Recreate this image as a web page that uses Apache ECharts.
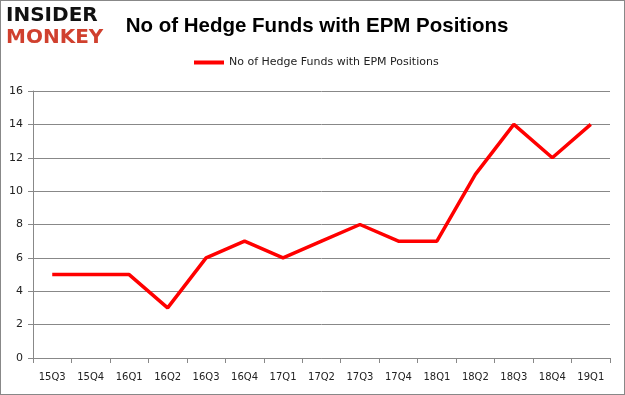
<!DOCTYPE html>
<html><head><meta charset="utf-8">
<script src="https://cdn.jsdelivr.net/npm/echarts@6/dist/echarts.min.js"></script>
<style>html,body{margin:0;padding:0;background:#fff}#c{width:625px;height:395px;box-sizing:border-box;border:1px solid #888}</style>
</head><body><div id="c"></div>
<script>
const categories = ['15Q3','15Q4','16Q1','16Q2','16Q3','16Q4','17Q1','17Q2','17Q3','17Q4','18Q1','18Q2','18Q3','18Q4','19Q1'];
const values = [5,5,5,3,6,7,6,7,8,7,7,11,14,12,14];
const seriesName = 'No of Hedge Funds with EPM Positions';
const chart = echarts.init(document.getElementById('c'), null, {renderer:'canvas'});
chart.setOption({
  animation:false,
  title:{text:'No of Hedge Funds with EPM Positions', left:311, top:10, textAlign:'center',
    textStyle:{fontFamily:'Liberation Sans, Arial', fontWeight:'bold', fontSize:20.5, color:'#000'}},
  graphic:[
    {type:'text', left:5, top:5, style:{text:'INSIDER', fontFamily:'DejaVu Sans', fontWeight:900, fontSize:20, fill:'#111'}},
    {type:'text', left:5, top:27, style:{text:'MONKEY', fontFamily:'DejaVu Sans', fontWeight:900, fontSize:20, fill:'#d0402e'}}
  ],
  legend:{top:51, left:188, itemWidth:30, itemHeight:4, itemGap:5, icon:'rect',
    textStyle:{fontFamily:'DejaVu Sans', fontSize:11, color:'#222'}, data:[seriesName]},
  grid:{left:32, right:14, top:90, bottom:36, containLabel:false},
  xAxis:{type:'category', data:categories, boundaryGap:true,
    axisLine:{lineStyle:{color:'#888', width:1}},
    axisTick:{show:true, alignWithLabel:false, length:5, interval:0, lineStyle:{color:'#888'}},
    axisLabel:{interval:0, color:'#222', fontFamily:'DejaVu Sans', fontSize:10, margin:14}},
  yAxis:{type:'value', min:0, max:16, interval:2,
    axisLine:{show:true, lineStyle:{color:'#888'}},
    axisTick:{show:true, length:5, lineStyle:{color:'#888'}},
    splitLine:{lineStyle:{color:'#888', width:1}},
    axisLabel:{color:'#222', fontFamily:'DejaVu Sans', fontSize:11, margin:10}},
  series:[{name:seriesName, type:'line', data:values, showSymbol:false, symbol:'none',
    lineStyle:{color:'#ff0000', width:3.5}, itemStyle:{color:'#ff0000'}}]
});
</script></body></html>
